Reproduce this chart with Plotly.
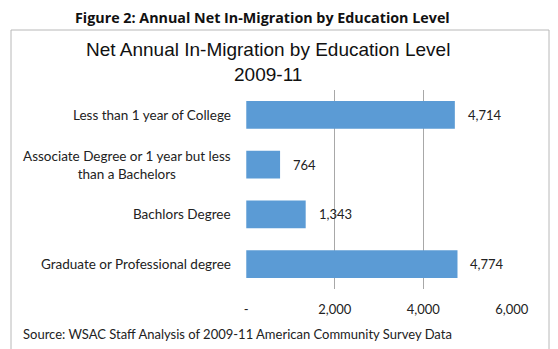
import plotly.graph_objects as go

categories = [
    "Less than 1 year of College",
    "Associate Degree or 1 year but less<br>than a Bachelors",
    "Bachlors Degree",
    "Graduate or Professional degree",
]
values = [4714, 764, 1343, 4774]
value_labels = ["4,714", "764", "1,343", "4,774"]
tick_vals = [0, 2000, 4000, 6000]
tick_text = ["-", "2,000", "4,000", "6,000"]

W, H = 558, 349
L, R, T, B = 246, 512, 90, 289


def px_x(p):
    return (p - L) / (R - L)


def px_y(p):
    return (B - p) / (B - T)


text_font = dict(family="Lato, 'Open Sans', sans-serif", size=13, color="#222222")
cat_font = dict(family="Lato, 'Open Sans', sans-serif", size=13.5, color="#222222")

fig = go.Figure(
    go.Bar(
        x=values,
        y=categories,
        orientation="h",
        marker=dict(color="#5B9BD5", line=dict(width=0)),
        hoverinfo="skip",
    )
)

annotations = []
for cat in categories:
    annotations.append(dict(
        x=px_x(233), xref="paper", y=cat, yref="y",
        text=cat, showarrow=False, xanchor="right", yanchor="middle",
        align="center", font=cat_font,
    ))
for v, lab, cat in zip(values, value_labels, categories):
    annotations.append(dict(
        x=v, xref="x", y=cat, yref="y", text=lab, showarrow=False,
        xanchor="left", yanchor="middle", xshift=11, font=text_font,
    ))

annotations.append(dict(
    x=px_x(268), xref="paper", y=px_y(62), yref="paper",
    text="Net Annual In-Migration by Education Level<br>2009-11",
    showarrow=False, xanchor="center", yanchor="middle", align="center",
    font=dict(family="'Liberation Sans', Arial, sans-serif", size=19, color="#111111"),
))
annotations.append(dict(
    x=px_x(262), xref="paper", y=px_y(17), yref="paper",
    text="<b>Figure 2: Annual Net In-Migration by Education Level</b>",
    showarrow=False, xanchor="center", yanchor="middle",
    font=dict(family="'Open Sans', sans-serif", size=14.3, color="#111111"),
))
annotations.append(dict(
    x=px_x(21), xref="paper", y=px_y(334), yref="paper",
    text="Source: WSAC Staff Analysis of 2009-11 American Community Survey Data",
    showarrow=False, xanchor="left", yanchor="middle",
    font=text_font,
))

fig.update_layout(
    width=W, height=H,
    margin=dict(l=L, r=W - R, t=T, b=H - B, pad=0),
    paper_bgcolor="white", plot_bgcolor="white",
    showlegend=False,
    bargap=0.44,
    annotations=annotations,
    shapes=[dict(
        type="rect", xref="paper", yref="paper",
        x0=px_x(11), x1=px_x(549), y0=px_y(360), y1=px_y(30),
        line=dict(color="#B8B8B8", width=1), fillcolor="rgba(0,0,0,0)",
        layer="below",
    )],
    xaxis=dict(
        range=[-6, 6006], tickvals=tick_vals, ticktext=tick_text,
        showgrid=True, gridcolor="#A8A8A8", gridwidth=1, zeroline=False,
        showline=False, ticks="outside", ticklen=8, tickcolor="rgba(0,0,0,0)",
        tickfont=text_font, fixedrange=True,
    ),
    yaxis=dict(
        autorange="reversed", showticklabels=False, showgrid=False,
        zeroline=False, showline=False, ticks="", fixedrange=True,
    ),
)

fig.write_html("out.html")
